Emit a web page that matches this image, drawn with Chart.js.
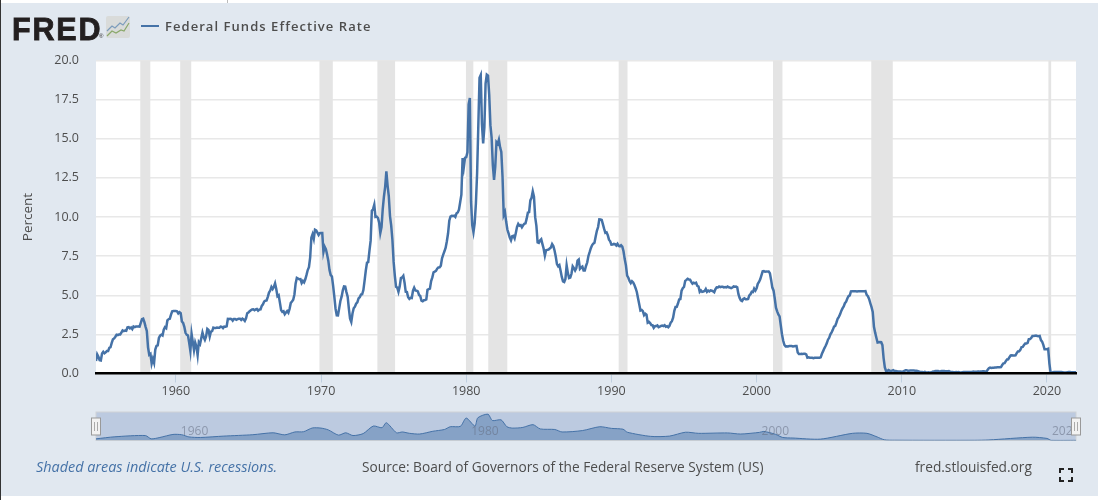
<!DOCTYPE html>
<html>
<head>
<meta charset="utf-8">
<title>Federal Funds Effective Rate</title>
<script src="https://cdn.jsdelivr.net/npm/chart.js@4/dist/chart.umd.min.js"></script>
<style>
  html, body { margin: 0; padding: 0; background: #fff; }
  #page { position: relative; width: 1098px; height: 500px; overflow: hidden; background: #fff; font-family: "Open Sans", sans-serif; }
  #panel { position: absolute; left: 0; top: 3px; width: 1098px; height: 493px; background: #e1e8f0; }
  #edge { position: absolute; left: 0; top: 0; width: 1px; height: 500px; background: #333; }
  #nick { position: absolute; left: 227px; top: 0; width: 1px; height: 3px; background: #bbb; }
  canvas { position: absolute; left: 0; }
  .txt { position: absolute; white-space: nowrap; line-height: 1; }
  #logo { left: 12px; top: 12px; font: bold 30.5px "Liberation Sans", sans-serif; color: #231f20; letter-spacing: 1.8px; -webkit-text-stroke: 0.8px #231f20; }
  #reg { left: 99px; top: 33px; font: 6px "Liberation Sans", sans-serif; color: #231f20; }
  #icon { position: absolute; left: 106px; top: 16px; }
  #legline { position: absolute; left: 141px; top: 25px; width: 18px; height: 2px; background: #4572a7; }
  #legend { left: 165px; top: 20px; font-size: 13px; font-weight: 600; color: #4d4d4d; letter-spacing: 1.05px; }
  #note { left: 36px; top: 460px; font-size: 14.4px; font-style: italic; color: #4572a7; }
  #source { left: 362px; top: 460px; font-size: 13.7px; color: #4d4d4d; }
  #site { left: 915px; top: 460px; font-size: 13.7px; color: #4d4d4d; }
  #full { position: absolute; left: 1059px; top: 468px; }
</style>
</head>
<body>
<div id="page">
  <div id="panel"></div>
  <div id="edge"></div>
  <div id="nick"></div>
  <canvas id="chart" width="1098" height="500" style="top:0"></canvas>
  <canvas id="nav" width="1098" height="45" style="top:405px"></canvas>
  <div class="txt" id="logo">FRED</div>
  <div class="txt" id="reg">®</div>
  <svg id="icon" width="24" height="22" viewBox="0 0 24 22">
    <rect width="24" height="22" rx="2" fill="#d9dbda"/>
    <polyline points="1,15 6,10 9,12 14,7 17,9 23,1" fill="none" stroke="#7c9cbc" stroke-width="1.2"/>
    <polyline points="1,20 6,15 10,17 15,14 18,15 23,7" fill="none" stroke="#8aa86a" stroke-width="1.2"/>
  </svg>
  <div id="legline"></div>
  <div class="txt" id="legend">Federal Funds Effective Rate</div>
  <div class="txt" id="note">Shaded areas indicate U.S. recessions.</div>
  <div class="txt" id="source">Source: Board of Governors of the Federal Reserve System (US)</div>
  <div class="txt" id="site">fred.stlouisfed.org</div>
  <svg id="full" width="14" height="14" viewBox="0 0 14 14">
    <path d="M1 5V1H5M9 1H13V5M13 9V13H9M5 13H1V9" fill="none" stroke="#222" stroke-width="2"/>
  </svg>
</div>

<script>
// monthly values, first one is July 1954
var firstMonth = 1954.5;
var rates = [
  0.80, 1.22, 1.07, 0.85, 0.83, 1.28,
  1.39, 1.29, 1.35, 1.43, 1.43, 1.64, 1.68, 1.96, 2.18, 2.24, 2.35, 2.48,
  2.45, 2.50, 2.50, 2.62, 2.75, 2.71, 2.75, 2.73, 2.95, 2.96, 2.88, 2.94,
  2.84, 3.00, 2.96, 3.00, 3.00, 3.00, 2.99, 3.24, 3.47, 3.50, 3.28, 2.98,
  2.72, 1.67, 1.20, 1.26, 0.63, 0.93, 0.68, 1.53, 1.76, 1.80, 2.27, 2.42,
  2.48, 2.43, 2.80, 2.96, 2.90, 3.39, 3.47, 3.50, 3.76, 3.98, 4.00, 3.99,
  3.99, 3.97, 3.84, 3.92, 3.85, 3.32, 3.23, 2.98, 2.60, 2.47, 2.44, 1.98,
  1.45, 2.54, 2.02, 1.49, 1.98, 1.73, 1.17, 2.00, 1.88, 2.26, 2.62, 2.33,
  2.15, 2.37, 2.85, 2.78, 2.36, 2.68, 2.71, 2.93, 2.90, 2.90, 2.94, 2.93,
  2.92, 3.00, 2.98, 2.90, 3.00, 2.99, 3.02, 3.49, 3.48, 3.50, 3.48, 3.38,
  3.48, 3.48, 3.43, 3.47, 3.50, 3.50, 3.42, 3.50, 3.45, 3.36, 3.52, 3.85,
  3.90, 3.98, 4.04, 4.09, 4.10, 4.04, 4.09, 4.12, 4.01, 4.08, 4.10, 4.32,
  4.42, 4.60, 4.65, 4.67, 4.90, 5.17, 5.30, 5.53, 5.40, 5.53, 5.76, 5.40,
  4.94, 5.00, 4.53, 4.05, 3.94, 3.98, 3.79, 3.90, 3.99, 3.88, 4.13, 4.51,
  4.60, 4.71, 5.05, 5.76, 6.11, 6.07, 6.02, 6.03, 5.78, 5.91, 5.82, 6.02,
  6.30, 6.61, 6.79, 7.41, 8.67, 8.90, 8.61, 9.19, 9.15, 9.00, 8.85, 8.97,
  8.98, 8.98, 7.76, 8.10, 7.95, 7.61, 7.21, 6.61, 6.29, 6.20, 5.60, 4.90,
  4.14, 3.72, 3.71, 4.16, 4.63, 4.91, 5.31, 5.56, 5.55, 5.20, 4.91, 4.14,
  3.50, 3.29, 3.83, 4.17, 4.27, 4.46, 4.55, 4.80, 4.87, 5.04, 5.06, 5.33,
  5.94, 6.58, 7.09, 7.12, 7.84, 8.49, 10.40, 10.50, 10.78, 10.01, 10.03, 9.95,
  9.65, 8.97, 9.35, 10.51, 11.31, 11.93, 12.92, 12.01, 11.34, 10.06, 9.45, 8.53,
  7.13, 6.24, 5.54, 5.49, 5.22, 5.55, 6.10, 6.14, 6.24, 5.82, 5.22, 5.20,
  4.87, 4.77, 4.84, 4.82, 5.29, 5.48, 5.31, 5.29, 5.25, 5.02, 4.95, 4.65,
  4.61, 4.68, 4.69, 4.73, 5.35, 5.39, 5.42, 5.90, 6.14, 6.47, 6.51, 6.56,
  6.70, 6.78, 6.79, 6.89, 7.36, 7.60, 7.81, 8.04, 8.45, 8.96, 9.76, 10.03,
  10.07, 10.06, 10.09, 10.01, 10.24, 10.29, 10.47, 10.94, 11.43, 13.77, 13.18, 13.78,
  13.82, 14.13, 17.19, 17.61, 10.98, 9.47, 9.03, 9.61, 10.87, 12.81, 15.85, 18.90,
  19.08, 15.93, 14.70, 15.72, 18.52, 19.10, 19.04, 17.82, 15.87, 15.08, 13.31, 12.37,
  13.22, 14.78, 14.68, 14.94, 14.45, 14.15, 12.59, 10.12, 10.31, 9.71, 9.20, 8.95,
  8.68, 8.51, 8.77, 8.80, 8.63, 8.98, 9.37, 9.56, 9.45, 9.48, 9.34, 9.47,
  9.56, 9.59, 9.91, 10.29, 10.32, 11.06, 11.23, 11.64, 11.30, 9.99, 9.43, 8.38,
  8.35, 8.50, 8.58, 8.27, 7.97, 7.53, 7.88, 7.90, 7.92, 7.99, 8.05, 8.27,
  8.14, 7.86, 7.48, 6.99, 6.85, 6.92, 6.56, 6.17, 5.89, 5.85, 6.04, 6.91,
  6.43, 6.10, 6.13, 6.37, 6.85, 6.73, 6.58, 6.73, 7.22, 7.29, 6.69, 6.77,
  6.83, 6.58, 6.58, 6.87, 7.09, 7.51, 7.75, 8.01, 8.19, 8.30, 8.35, 8.76,
  9.12, 9.36, 9.85, 9.84, 9.81, 9.53, 9.24, 8.99, 9.02, 8.84, 8.55, 8.45,
  8.23, 8.24, 8.28, 8.26, 8.18, 8.29, 8.15, 8.13, 8.20, 8.11, 7.81, 7.31,
  6.91, 6.25, 6.12, 5.91, 5.78, 5.90, 5.82, 5.66, 5.45, 5.21, 4.81, 4.43,
  4.03, 4.06, 3.98, 3.73, 3.82, 3.76, 3.25, 3.30, 3.22, 3.10, 3.09, 2.92,
  3.02, 3.03, 3.07, 2.96, 3.00, 3.04, 3.06, 3.03, 3.09, 2.99, 3.02, 2.96,
  3.05, 3.25, 3.34, 3.56, 4.01, 4.25, 4.26, 4.47, 4.73, 4.76, 5.29, 5.45,
  5.53, 5.92, 5.98, 6.05, 6.01, 6.00, 5.85, 5.74, 5.80, 5.76, 5.80, 5.60,
  5.56, 5.22, 5.31, 5.22, 5.24, 5.27, 5.40, 5.22, 5.30, 5.24, 5.31, 5.29,
  5.25, 5.19, 5.39, 5.51, 5.50, 5.56, 5.52, 5.54, 5.54, 5.50, 5.52, 5.50,
  5.56, 5.51, 5.49, 5.45, 5.49, 5.56, 5.54, 5.55, 5.51, 5.07, 4.83, 4.68,
  4.63, 4.76, 4.81, 4.74, 4.74, 4.76, 4.99, 5.07, 5.22, 5.20, 5.42, 5.30,
  5.45, 5.73, 5.85, 6.02, 6.27, 6.53, 6.54, 6.50, 6.52, 6.51, 6.51, 6.40,
  5.98, 5.49, 5.31, 4.80, 4.21, 3.97, 3.77, 3.65, 3.07, 2.49, 2.09, 1.82,
  1.73, 1.74, 1.73, 1.75, 1.75, 1.75, 1.73, 1.74, 1.75, 1.75, 1.34, 1.24,
  1.24, 1.26, 1.25, 1.26, 1.26, 1.22, 1.01, 1.03, 1.01, 1.01, 1.00, 0.98,
  1.00, 1.01, 1.00, 1.00, 1.00, 1.03, 1.26, 1.43, 1.61, 1.76, 1.93, 2.16,
  2.28, 2.50, 2.63, 2.79, 3.00, 3.04, 3.26, 3.50, 3.62, 3.78, 4.00, 4.16,
  4.29, 4.49, 4.59, 4.79, 4.94, 4.99, 5.24, 5.25, 5.25, 5.25, 5.25, 5.24,
  5.25, 5.26, 5.26, 5.25, 5.25, 5.25, 5.26, 5.02, 4.94, 4.76, 4.49, 4.24,
  3.94, 2.98, 2.61, 2.28, 1.98, 2.00, 2.01, 2.00, 1.81, 0.97, 0.39, 0.16,
  0.15, 0.22, 0.18, 0.15, 0.18, 0.21, 0.16, 0.16, 0.15, 0.12, 0.12, 0.12,
  0.11, 0.13, 0.16, 0.20, 0.20, 0.18, 0.18, 0.19, 0.19, 0.19, 0.19, 0.18,
  0.17, 0.16, 0.14, 0.10, 0.09, 0.09, 0.07, 0.10, 0.08, 0.07, 0.08, 0.07,
  0.08, 0.10, 0.13, 0.14, 0.16, 0.16, 0.16, 0.13, 0.14, 0.16, 0.16, 0.16,
  0.14, 0.15, 0.14, 0.15, 0.11, 0.09, 0.09, 0.08, 0.08, 0.09, 0.08, 0.09,
  0.07, 0.07, 0.08, 0.09, 0.09, 0.10, 0.09, 0.09, 0.09, 0.09, 0.09, 0.12,
  0.11, 0.11, 0.11, 0.12, 0.12, 0.13, 0.13, 0.14, 0.14, 0.12, 0.12, 0.24,
  0.34, 0.38, 0.36, 0.37, 0.37, 0.38, 0.39, 0.40, 0.40, 0.40, 0.41, 0.54,
  0.65, 0.66, 0.79, 0.90, 0.91, 1.04, 1.15, 1.16, 1.15, 1.15, 1.16, 1.30,
  1.41, 1.42, 1.51, 1.69, 1.70, 1.82, 1.91, 1.91, 1.95, 2.19, 2.20, 2.27,
  2.40, 2.40, 2.41, 2.42, 2.39, 2.38, 2.40, 2.13, 2.04, 1.83, 1.55, 1.55,
  1.55, 1.58, 0.65, 0.05, 0.05, 0.08, 0.09, 0.10, 0.09, 0.09, 0.09, 0.09,
  0.09, 0.08, 0.07, 0.07, 0.06, 0.08, 0.10, 0.09, 0.08, 0.08, 0.08, 0.08, 0.08
];
var recessionStarts = [1957.55, 1960.3, 1969.89, 1973.88, 1979.98, 1981.52, 1990.5, 2001.13, 2007.9, 2020.1];
var recessionEnds = [1958.24, 1961.06, 1970.81, 1975.1, 1980.49, 1982.83, 1991.11, 2001.78, 2009.38, 2020.29];
var yearTicks = [1960, 1970, 1980, 1990, 2000, 2010, 2020];
var rateTicks = [0, 2.5, 5, 7.5, 10, 12.5, 15, 17.5, 20];

// the overview strip under the chart is smoother than the main line
var navYears = [1954.5, 1955.8, 1957.9, 1958.3, 1958.9, 1959.8, 1960.4, 1960.9, 1961.7, 1963.3, 1965.3, 1966.7, 1967.5, 1968.2, 1968.8, 1969.4, 1970, 1970.5, 1971.2, 1971.7, 1972.2, 1972.9, 1973.6, 1974.2, 1974.5, 1975.2, 1975.6, 1976.1, 1976.8, 1977.7, 1978.5, 1978.9, 1979.6, 1980, 1980.6, 1980.8, 1981.5, 1981.8, 1982.4, 1982.8, 1983.2, 1983.9, 1984.6, 1985.1, 1986.1, 1986.6, 1988, 1989.2, 1990, 1990.8, 1991.1, 1992.7, 1994, 1995.1, 1996, 1998, 1998.9, 2000.2, 2000.5, 2001.3, 2001.8, 2002.5, 2004.4, 2006.6, 2007.6, 2008.3, 2008.8, 2009.5, 2015, 2016, 2019, 2020, 2020.3, 2022];
var navRates = [1.2, 2.7, 3.6, 1.2, 2.2, 4.4, 4.2, 2.6, 2.2, 3.2, 4.2, 5.6, 4.1, 6.2, 6.4, 9.1, 9, 7.7, 3.9, 5.6, 3.6, 5, 10.5, 9.3, 12.9, 5.6, 6.2, 5.2, 4.7, 6.7, 8, 10, 10.3, 16.3, 10.5, 16.5, 19.1, 14.5, 15, 10, 9, 9.5, 11.5, 8.4, 8, 6.2, 7.2, 10, 8.8, 8.2, 6, 3, 3.2, 6, 5.2, 5.5, 4.7, 5.9, 6.6, 4.5, 2.2, 1.8, 1, 5.2, 5.2, 2.6, 0.5, 0.2, 0.15, 0.4, 2.4, 1.5, 0.1, 0.1];
var navTicks = [1960, 1980, 2000, 2020];

var lastMonth = 2022;
var points = rates.map(function (r, i) {
  return { x: firstMonth + i / 12, y: r };
});
var navPoints = navYears.map(function (y, i) {
  return { x: y, y: navRates[i] };
});

var recessionBands = {
  id: "recessionBands",
  beforeDraw: function (chart) {
    var a = chart.chartArea;
    chart.ctx.fillStyle = "#fff";
    chart.ctx.fillRect(a.left, a.top, a.width, a.height);
  },
  // after the grid, the gridlines stop at the bands in the original
  beforeDatasetsDraw: function (chart) {
    var a = chart.chartArea, ctx = chart.ctx, x = chart.scales.x;
    ctx.fillStyle = "#e4e4e4";
    recessionStarts.forEach(function (s, i) {
      var l = x.getPixelForValue(s), r = x.getPixelForValue(recessionEnds[i]);
      ctx.fillRect(l, a.top, r - l, a.height);
    });
  }
};

new Chart(document.getElementById("chart"), {
  type: "line",
  data: {
    datasets: [{
      data: points,
      borderColor: "#4572a7",
      borderWidth: 2.5,
      pointRadius: 0,
      tension: 0,
      fill: false
    }]
  },
  options: {
    responsive: false,
    animation: false,
    events: [],
    layout: { padding: { left: 0, top: 60.5, right: 22, bottom: 0 } },
    plugins: { legend: { display: false }, tooltip: { enabled: false } },
    scales: {
      x: {
        type: "linear",
        min: firstMonth,
        max: lastMonth,
        afterBuildTicks: function (scale) {
          scale.ticks = yearTicks.map(function (v) { return { value: v }; });
        },
        afterFit: function (scale) { scale.height = 126.5; },
        grid: { drawOnChartArea: false, tickLength: 9, tickColor: "#c0d0e0", tickWidth: 1 },
        border: { color: "#000", width: 2.5, z: 1 },
        ticks: {
          autoSkip: false,
          maxRotation: 0,
          padding: 1,
          color: "#4d4d4d",
          font: { family: "Open Sans", size: 12.5 },
          callback: function (v) { return String(v); }
        }
      },
      y: {
        min: 0,
        max: 20,
        afterBuildTicks: function (scale) {
          scale.ticks = rateTicks.map(function (v) { return { value: v }; });
        },
        afterFit: function (scale) { scale.width = 96; },
        grid: { color: "#e8e8e8", lineWidth: 1.5, drawTicks: false },
        border: { display: false },
        title: {
          display: true,
          text: "Percent",
          color: "#4d4d4d",
          font: { family: "Open Sans", size: 13.5 },
          padding: { top: 20, bottom: 0 }
        },
        ticks: {
          padding: 17,
          color: "#4d4d4d",
          font: { family: "Open Sans", size: 12.5 },
          callback: function (v) { return v.toFixed(1); }
        }
      }
    }
  },
  plugins: [recessionBands]
});

var navExtras = {
  id: "navExtras",
  beforeDatasetsDraw: function (chart) {
    var a = chart.chartArea, ctx = chart.ctx;
    ctx.fillStyle = "#bccae0";
    ctx.fillRect(a.left, a.top, a.width, a.height);
    ctx.strokeStyle = "#cfd2d6";
    ctx.lineWidth = 1;
    ctx.strokeRect(a.left, a.top, a.width, a.height);
  },
  afterDatasetsDraw: function (chart) {
    var a = chart.chartArea, ctx = chart.ctx, x = chart.scales.x;
    ctx.font = '12px "Open Sans"';
    ctx.textBaseline = "middle";
    ctx.fillStyle = "rgba(100,110,130,0.55)";
    navTicks.forEach(function (t) {
      ctx.fillText(String(t), x.getPixelForValue(t) + 5, a.top + 20);
    });
    [a.left, a.right].forEach(function (h) {
      ctx.fillStyle = "#f2f2f2";
      ctx.strokeStyle = "#999";
      ctx.fillRect(h - 4.5, 13, 9, 17);
      ctx.strokeRect(h - 4.5, 13, 9, 17);
      ctx.strokeStyle = "#aaa";
      ctx.beginPath();
      ctx.moveTo(h - 1.5, 17); ctx.lineTo(h - 1.5, 26);
      ctx.moveTo(h + 1.5, 17); ctx.lineTo(h + 1.5, 26);
      ctx.stroke();
    });
  }
};

new Chart(document.getElementById("nav"), {
  type: "line",
  data: {
    datasets: [{
      data: navPoints,
      borderColor: "#4572a7",
      borderWidth: 1,
      backgroundColor: "rgba(69,114,167,0.45)",
      fill: "origin",
      pointRadius: 0,
      tension: 0.25
    }]
  },
  options: {
    responsive: false,
    animation: false,
    events: [],
    layout: { padding: { left: 96, top: 7, right: 22, bottom: 9.5 } },
    plugins: { legend: { display: false }, tooltip: { enabled: false } },
    scales: {
      x: { type: "linear", display: false, min: firstMonth, max: lastMonth },
      y: { display: false, min: 0, max: 20.7 }
    }
  },
  plugins: [navExtras]
});
</script>
</body>
</html>
